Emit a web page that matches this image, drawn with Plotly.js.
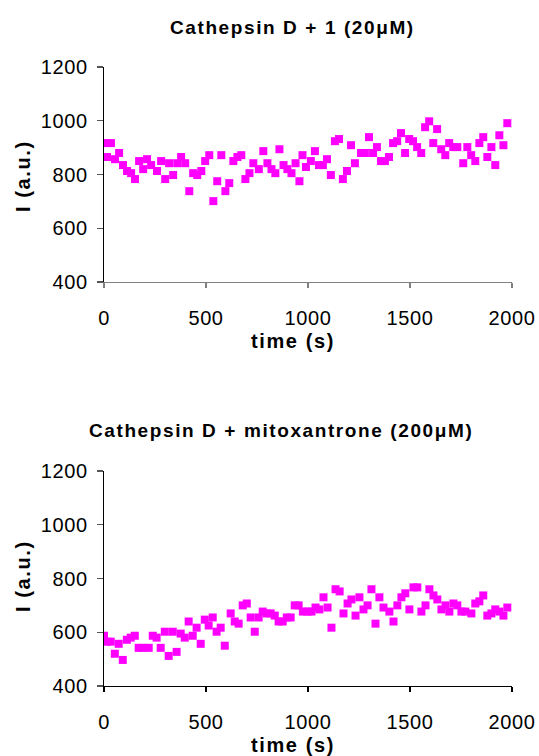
<!DOCTYPE html>
<html>
<head>
<meta charset="utf-8">
<script src="https://cdn.plot.ly/plotly-3.0.1.min.js"></script>
<style>
html,body{margin:0;padding:0;background:#fff;}
#chart{width:539px;height:756px;}
.annotation-text{letter-spacing:1.6px;}
.xtick text,.ytick text,.x2tick text,.y2tick text{letter-spacing:0.6px;}
</style>
</head>
<body>
<div id="chart"></div>
<script>
// Top panel: Cathepsin D + 1 (20 µM)
const time1 = [0,15,34,54,74,93,113,133,152,172,192,211,231,260,280,300,319,339,359,378,398,418,437,457,477,496,516,536,555,575,595,614,634,654,673,693,713,732,759,781,801,821,840,860,880,899,919,939,958,973,990,1014,1034,1054,1073,1093,1112,1132,1152,1171,1191,1211,1230,1260,1279,1299,1319,1338,1358,1377,1397,1417,1437,1456,1476,1496,1515,1535,1555,1574,1594,1614,1633,1653,1673,1692,1712,1732,1761,1781,1800,1820,1840,1859,1879,1899,1918,1938,1958,1977];
const intensity1 = [917,865,917,857,880,835,813,805,783,850,820,857,835,813,850,783,842,798,842,865,842,738,805,798,813,850,872,701,775,872,738,768,850,865,872,783,805,842,820,887,842,820,805,894,835,820,805,842,775,872,828,850,887,835,835,857,798,924,932,783,813,909,842,880,880,939,880,902,850,850,865,917,924,954,880,932,924,902,880,976,998,917,969,894,872,917,902,902,842,902,872,850,917,939,865,902,835,946,909,991];

// Bottom panel: Cathepsin D + mitoxantrone (200 µM)
const time2 = [0,14,33,53,72,92,112,131,151,170,190,219,239,258,278,298,317,337,356,376,396,415,435,454,474,494,513,533,552,572,592,621,641,660,680,700,719,739,758,778,798,817,837,856,876,896,915,935,954,975,998,1017,1037,1056,1076,1096,1115,1135,1155,1174,1194,1213,1233,1252,1272,1292,1311,1331,1350,1370,1399,1419,1438,1458,1477,1497,1517,1536,1556,1576,1595,1615,1634,1654,1674,1693,1713,1732,1752,1771,1801,1820,1840,1859,1879,1899,1918,1938,1958,1977];
const intensity2 = [587,565,565,520,557,497,572,580,587,542,542,542,587,580,542,602,512,602,527,595,580,640,587,617,557,647,625,655,602,617,550,670,640,632,700,707,655,602,655,677,670,670,662,640,640,655,655,700,700,677,677,677,692,685,730,692,617,760,752,670,707,722,662,730,685,700,760,632,730,692,677,640,700,730,745,685,767,767,677,700,760,737,722,685,700,677,707,700,677,677,670,707,715,737,662,670,685,677,662,692];

const title1 = "Cathepsin D + 1 (20\u03bcM)";
const title2 = "Cathepsin D + mitoxantrone (200\u03bcM)";
const xTitle = "time (s)";
const yTitle = "I (a.u.)";
const xTicks = [0,500,1000,1500,2000];
const yTicks = [400,600,800,1000,1200];

const markerStyle = {symbol:'square', size:8, color:'#FF00FF', line:{width:0}};
const FONT = 'Liberation Sans, Arial, sans-serif';

const traces = [
  {x:time1, y:intensity1, type:'scatter', mode:'markers', marker:markerStyle, xaxis:'x', yaxis:'y', hoverinfo:'skip'},
  {x:time2, y:intensity2, type:'scatter', mode:'markers', marker:markerStyle, xaxis:'x2', yaxis:'y2', hoverinfo:'skip'}
];

function xAxis(anchor, lineColor){
  return {
    anchor:anchor, domain:[0,1], range:[0,2000], tickvals:xTicks, ticktext:xTicks.map(String),
    showgrid:false, zeroline:false, showline:true, linecolor:lineColor, linewidth:1.3,
    ticks:'outside', ticklen:5, tickcolor:lineColor, tickwidth:1.3,
    ticklabelstandoff:13, tickfont:{family:FONT, size:20, color:'#000'}, fixedrange:true
  };
}
function yAxis(anchor, domain){
  return {
    anchor:anchor, domain:domain, range:[400,1200], tickvals:yTicks, ticktext:yTicks.map(String),
    showgrid:false, zeroline:false, showline:true, linecolor:'#000', linewidth:1.3,
    ticks:'outside', ticklen:6, tickcolor:'#555', tickwidth:1.3,
    ticklabelstandoff:5, tickfont:{family:FONT, size:20, color:'#000'}, fixedrange:true
  };
}

// plot area: x 104..512 px, top panel y 67..282, bottom panel y 471..686
const W = 539, H = 756, L = 104, R = 27, T = 67, B = 70;
const pw = W - L - R, ph = H - T - B;
const px = v => (v - L) / pw;
const py = v => (H - B - v) / ph;

function ann(text, x, y, size, angle){
  return {text:'<b>'+text+'</b>', xref:'paper', yref:'paper', x:px(x), y:py(y),
    xanchor:'center', yanchor:'middle', showarrow:false, textangle:angle||0,
    font:{family:FONT, size:size, color:'#000'}};
}

const layout = {
  width:W, height:H,
  margin:{l:L, r:R, t:T, b:B},
  paper_bgcolor:'#fff', plot_bgcolor:'#fff',
  showlegend:false,
  xaxis: xAxis('y', '#808080'),
  yaxis: yAxis('x', [py(282), 1]),
  xaxis2: xAxis('y2', '#000'),
  yaxis2: yAxis('x2', [0, py(471)]),
  annotations:[
    ann(title1, 292, 28, 19),
    ann(title2, 281, 431, 19),
    ann(xTitle, 293, 341, 20),
    ann(xTitle, 293, 745, 20),
    ann(yTitle, 23, 176, 20, -90),
    ann(yTitle, 23, 576, 20, -90)
  ]
};

Plotly.newPlot('chart', traces, layout, {staticPlot:true, displayModeBar:false});
</script>
</body>
</html>
